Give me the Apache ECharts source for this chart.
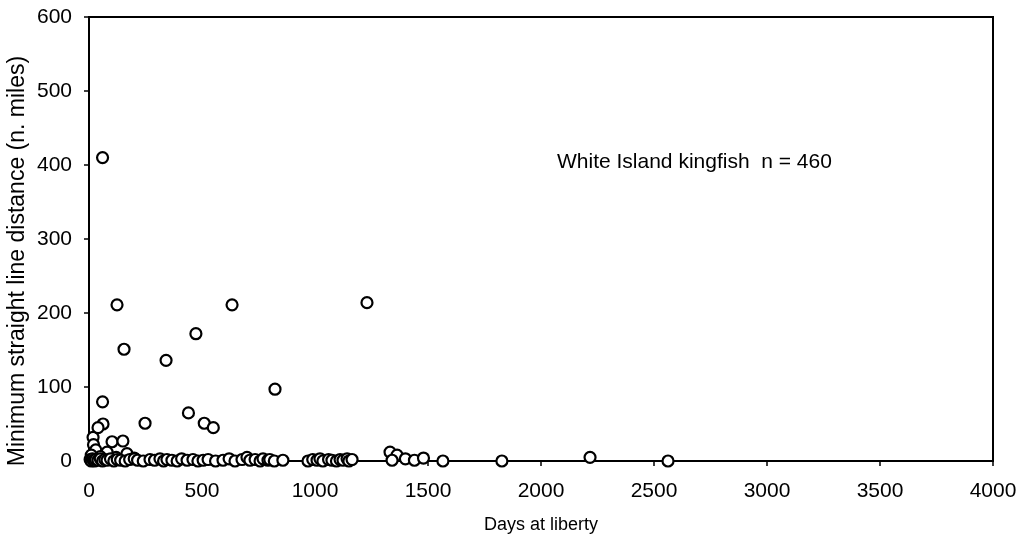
<!DOCTYPE html>
<html>
<head>
<meta charset="utf-8">
<script src="https://cdn.jsdelivr.net/npm/echarts@6/dist/echarts.min.js"></script>
<style>
html,body{margin:0;padding:0;background:#fff;}
#chart{width:1027px;height:545px;}
</style>
</head>
<body>
<div id="chart"></div>
<script>
// Days at liberty
const days = [
  60, 124, 155, 341, 473, 633, 1230, 823, 60, 62, 248, 440, 510, 550,
  18, 20, 40, 102, 150, 80, 168, 30, 10, 50, 120, 200,
  5, 10, 15, 20, 25, 30, 40, 50, 60, 70, 80, 95, 110, 125, 140, 160, 180, 200, 215, 240,
  270, 290, 314, 330, 345, 367, 390, 410, 434, 460, 482, 505, 527, 560, 593, 620, 646, 677,
  699, 712, 735, 757, 770, 792, 800, 820, 858, 969, 990, 1009, 1022, 1035, 1060, 1075, 1095,
  1111, 1124, 1142, 1150, 1164, 1332, 1363, 1341, 1400, 1440, 1480, 1566, 1827, 2217, 2562
];
// Minimum straight line distance (n. miles)
const distance = [
  410, 211, 151, 136, 172, 211, 214, 97, 80, 50, 51, 65, 51, 45,
  32, 22, 45, 26, 27, 12, 10, 15, 8, 6, 5, 4,
  2, 0, 3, 1, 0, 2, 1, 3, 0, 2, 1, 3, 0, 2, 1, 0, 2, 3, 1, 0,
  2, 1, 3, 0, 2, 1, 0, 3, 1, 2, 0, 1, 2, 0, 1, 3, 0, 2,
  5, 1, 2, 0, 3, 1, 2, 0, 1, 0, 2, 1, 3, 0, 2, 1, 0,
  2, 1, 3, 0, 2, 12, 8, 1, 3, 1, 4, 0, 0, 5, 0
];
const xTicks = [0, 500, 1000, 1500, 2000, 2500, 3000, 3500, 4000];
const yTicks = [0, 100, 200, 300, 400, 500, 600];
const annotation = 'White Island kingfish  n = 460';
const xTitle = 'Days at liberty';
const yTitle = 'Minimum straight line distance (n. miles)';

const points = days.map((d, i) => [d, distance[i]]);
const font = 'Liberation Sans, Arial, sans-serif';

const chart = echarts.init(document.getElementById('chart'));
chart.setOption({
  animation: false,
  backgroundColor: '#fff',
  grid: {left: 89, right: 34, top: 17, bottom: 84, show: true, borderColor: '#000', borderWidth: 2, backgroundColor: 'transparent'},
  xAxis: {
    type: 'value', min: xTicks[0], max: xTicks[xTicks.length - 1], interval: 500,
    name: xTitle, nameLocation: 'middle', nameGap: 55,
    nameTextStyle: {fontFamily: font, fontSize: 18, color: '#000'},
    axisLine: {show: true, onZero: false, lineStyle: {color: '#000', width: 2}},
    axisTick: {show: true, length: 5, lineStyle: {color: '#000', width: 1.5}},
    axisLabel: {fontFamily: font, fontSize: 21, color: '#000', margin: 20, formatter: v => String(v)},
    splitLine: {show: false}
  },
  yAxis: {
    type: 'value', min: yTicks[0], max: yTicks[yTicks.length - 1], interval: 100,
    axisLine: {show: true, lineStyle: {color: '#000', width: 2}},
    axisTick: {show: true, length: 5, lineStyle: {color: '#000', width: 1.5}},
    axisLabel: {fontFamily: font, fontSize: 21, color: '#000', margin: 17, formatter: v => String(v)},
    splitLine: {show: false}
  },
  graphic: [
    {type: 'text', left: 557, top: 152, style: {text: annotation, font: '21px ' + font, fill: '#000'}},
    {type: 'text', x: 18, y: 261, rotation: Math.PI / 2,
     style: {text: yTitle, font: '23px ' + font, fill: '#000', align: 'center', verticalAlign: 'middle'}}
  ],
  series: [{
    type: 'scatter', data: points, clip: false,
    symbol: 'circle', symbolSize: 11,
    itemStyle: {color: '#fff', borderColor: '#000', borderWidth: 2.2, opacity: 1}
  }]
});
</script>
</body>
</html>
